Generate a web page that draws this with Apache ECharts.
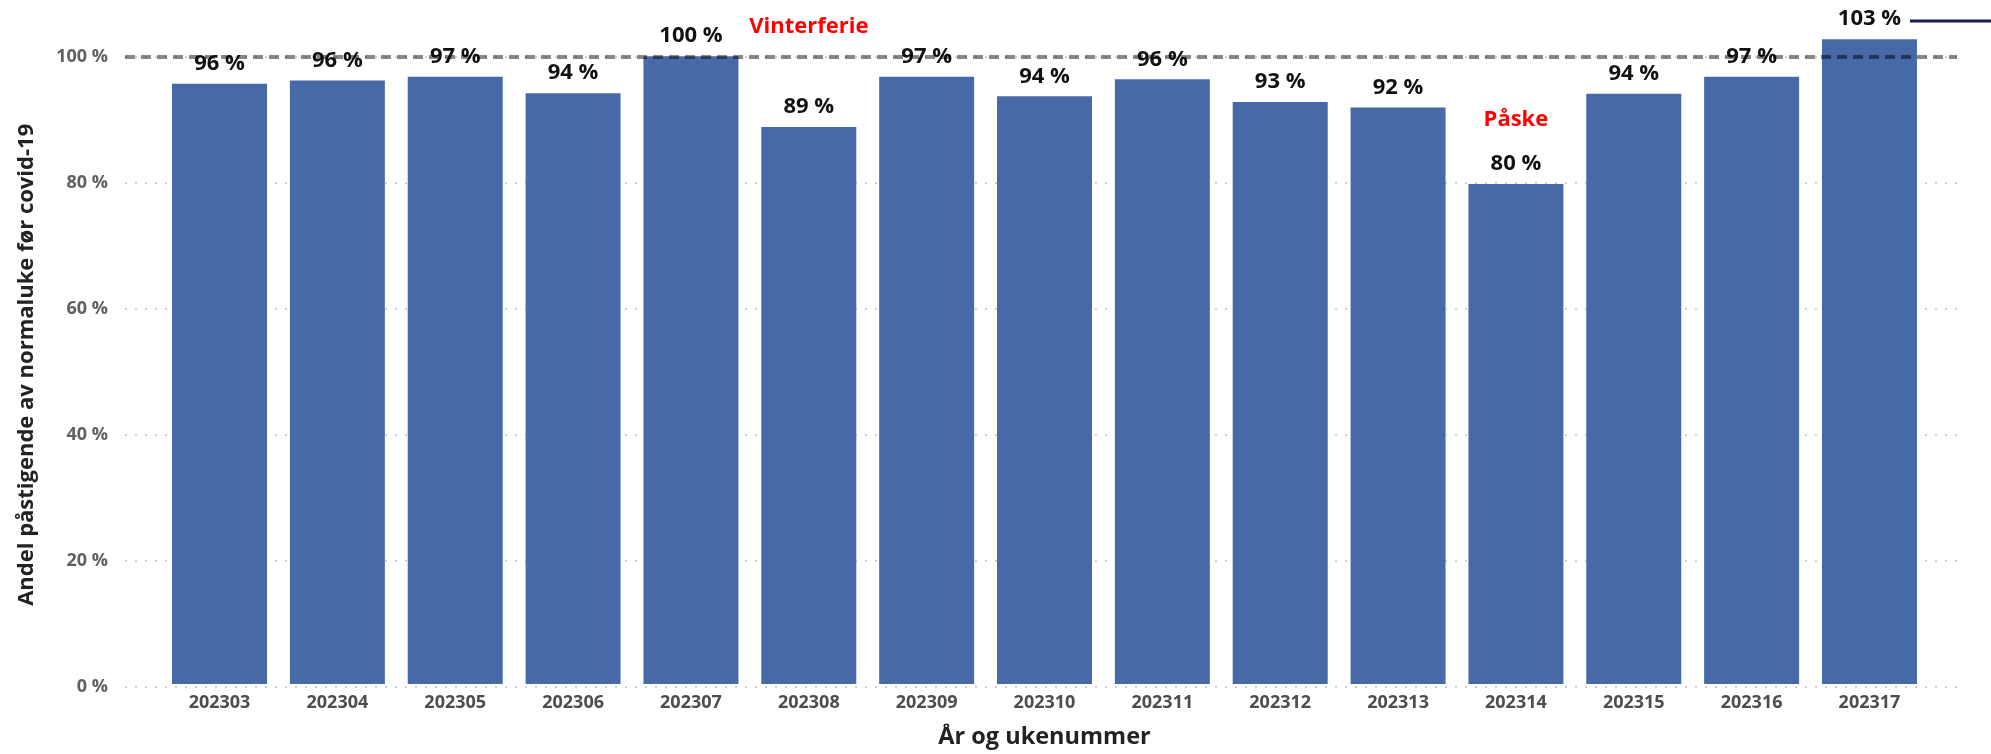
<!DOCTYPE html>
<html>
<head>
<meta charset="utf-8">
<script src="https://cdn.jsdelivr.net/npm/echarts@6/dist/echarts.min.js"></script>
<style>
html, body { margin: 0; padding: 0; background: #fff; }
#chart { width: 1991px; height: 754px; }
</style>
</head>
<body>
<div id="chart"></div>
<script>
// uker (år + ukenummer)
var weeks = ['202303','202304','202305','202306','202307','202308','202309','202310',
             '202311','202312','202313','202314','202315','202316','202317'];
// andel påstigende i prosent av normaluke før covid-19
var share = [95.7, 96.2, 96.8, 94.2, 100.1, 88.8, 96.8, 93.7, 96.4, 92.8, 91.9, 79.7, 94.1, 96.8, 102.8];
// merknader: uke, nivå (prosent) der teksten står
var noteNames = ['Vinterferie', 'Påske'];
var noteWeeks = ['202308', '202314'];
var noteLevels = [104.8, 90.0];
var refLevel = 100;	// normaluke
var yTicks = [0, 20, 40, 60, 80, 100];

var font = "'Open Sans', 'DejaVu Sans', sans-serif";
var yMax = 108;

var notes = [];
for (var i = 0; i < noteNames.length; i++) {
	notes.push({ name: noteNames[i], coord: [noteWeeks[i], noteLevels[i]] });
}

var chart = echarts.init(document.getElementById('chart'));

option = {
	animation: false,
	grid: [
		// bakgrunn: rutenett og 100 %-linje
		{ left: 125, right: 34, top: 687 - yMax * 6.3, bottom: 67 },
		// søyler
		{ left: 160.6, right: 62.6, top: 687 - yMax * 6.3, bottom: 67 }
	],
	xAxis: [
		{ type: 'value', gridIndex: 0, min: 0, max: 1, show: false },
		{
			type: 'category', gridIndex: 1, data: weeks,
			axisLine: { show: false }, axisTick: { show: false },
			axisLabel: { margin: 10, fontFamily: font, fontSize: 18, fontWeight: 'bold', color: '#4d4d4d' },
			name: 'År og ukenummer', nameLocation: 'middle', nameGap: 41,
			nameTextStyle: { fontFamily: font, fontSize: 23.5, fontWeight: 'bold', color: '#222' }
		}
	],
	yAxis: [
		{
			type: 'value', gridIndex: 0, min: yTicks[0], max: yMax, interval: yTicks[1] - yTicks[0],
			axisLine: { show: false }, axisTick: { show: false },
			axisLabel: {
				showMaxLabel: false, margin: 17,
				formatter: '{value} %',
				fontFamily: font, fontSize: 18, fontWeight: 'bold', color: '#606060'
			},
			splitLine: {
				show: true, showMaxLine: false,
				lineStyle: { type: [2, 8], width: 2, color: '#d0d0d0' }
			},
			name: 'Andel påstigende av normaluke før covid-19',
			nameLocation: 'middle', nameGap: 87,
			nameTextStyle: { fontFamily: font, fontSize: 22, fontWeight: 'bold', color: '#222', padding: [0, 36, 0, 0] }
		},
		{ type: 'value', gridIndex: 1, min: 0, max: yMax, show: false }
	],
	series: [
		{
			type: 'bar',
			xAxisIndex: 1, yAxisIndex: 1,
			data: share,
			barWidth: '80.6%',
			itemStyle: { color: '#4869A8' },
			label: {
				show: true, position: 'top', distance: 9,
				formatter: function(p){ return Math.round(p.value) + ' %'; },
				fontFamily: font, fontSize: 22, fontWeight: 'bold', color: '#111'
			},
			markPoint: {
				symbol: 'circle', symbolSize: 0, silent: true,
				label: {
					show: true, position: 'inside', formatter: '{b}',
					fontFamily: font, fontSize: 22, fontWeight: 'bold', color: '#ff0000'
				},
				data: notes
			}
		},
		{
			type: 'line',
			xAxisIndex: 0, yAxisIndex: 0,
			data: [],
			z: 10,
			markLine: {
				silent: true, symbol: 'none',
				label: { show: false },
				lineStyle: { type: [10, 6], width: 4, color: 'rgba(0,0,0,0.47)' },
				data: [{ yAxis: refLevel }]
			}
		}
	],
	graphic: [
		{
			type: 'line', z: 20,
			shape: { x1: 1910, y1: 21, x2: 1991, y2: 21 },
			style: { stroke: '#1b1f4f', lineWidth: 3 }
		}
	]
};

chart.setOption(option);
</script>
</body>
</html>
